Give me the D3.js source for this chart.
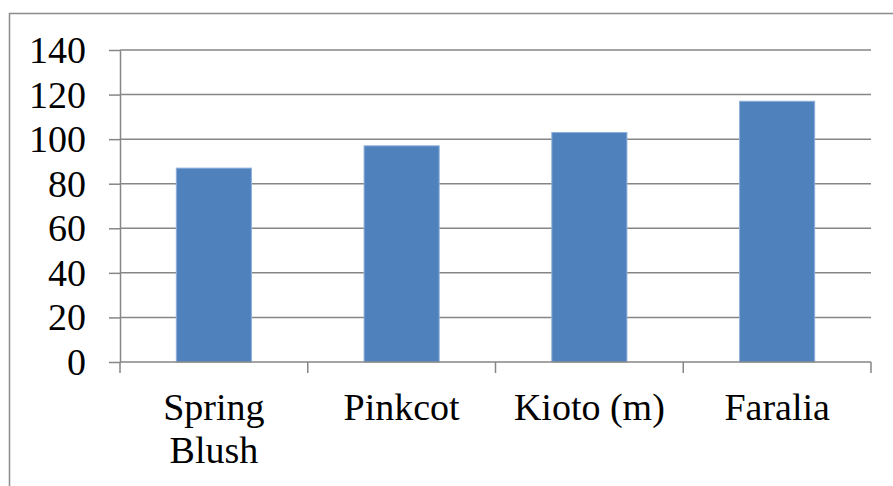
<!DOCTYPE html>
<html>
<head>
<meta charset="utf-8">
<script src="https://cdn.jsdelivr.net/npm/d3@7"></script>
<style>
  body { margin: 0; padding: 0; background: #fff; }
  svg { display: block; }
</style>
</head>
<body>
<svg id="chart" width="893" height="486"></svg>
<script>
// chart data
const categories = [["Spring", "Blush"], ["Pinkcot"], ["Kioto (m)"], ["Faralia"]];
const values = [87, 97, 103, 117];
const yTicks = [0, 20, 40, 60, 80, 100, 120, 140];

const FONT = "Liberation Serif";
const FONT_SIZE = 38;
const width = 893, height = 486;
const margin = { top: 50, right: 22, bottom: 124, left: 120 };
const plotW = width - margin.left - margin.right;
const plotH = height - margin.top - margin.bottom;

const svg = d3.select("#chart");

// outer chart border (runs off the right and bottom of the picture)
svg.append("rect")
  .attr("x", 9.5)
  .attr("y", 13.5)
  .attr("width", 900)
  .attr("height", 500)
  .attr("fill", "none")
  .attr("stroke", "#8c8c8c")
  .attr("stroke-width", 1.5);

const g = svg.append("g")
  .attr("transform", `translate(${margin.left},${margin.top})`);

const keys = categories.map((c) => c.join(" "));

const x = d3.scaleBand()
  .domain(keys)
  .range([0, plotW])
  .paddingInner(0.6)
  .paddingOuter(0.3);

// category bands (for ticks between categories)
const xCat = d3.scaleBand().domain(keys).range([0, plotW]);

const y = d3.scaleLinear()
  .domain([0, 140])
  .range([plotH, 0]);

// gridlines
g.append("g")
  .selectAll("line")
  .data(yTicks.filter((d) => d > 0))
  .join("line")
  .attr("x1", 0)
  .attr("x2", plotW)
  .attr("y1", (d) => y(d))
  .attr("y2", (d) => y(d))
  .attr("stroke", "#868686")
  .attr("stroke-width", 1.5);

// y axis
const yAxis = g.append("g")
  .call(d3.axisLeft(y).tickValues(yTicks).tickSize(11).tickPadding(23).tickSizeOuter(0));
yAxis.attr("font-family", FONT).attr("font-size", FONT_SIZE);
yAxis.select(".domain").attr("stroke", "#868686").attr("stroke-width", 1.5);
yAxis.selectAll(".tick text")
  .attr("font-family", FONT)
  .attr("font-size", FONT_SIZE)
  .attr("fill", "#000")
  .attr("dy", "0.33em");
yAxis.selectAll(".tick line").attr("stroke", "#868686").attr("stroke-width", 1.5);

// bars
g.selectAll(".bar")
  .data(values)
  .join("rect")
  .attr("class", "bar")
  .attr("x", (d, i) => x(keys[i]))
  .attr("y", (d) => y(d))
  .attr("width", x.bandwidth())
  .attr("height", (d) => y(0) - y(d))
  .attr("fill", "#4f81bd")
  .attr("stroke", "#8eb0da")
  .attr("stroke-width", 1);

// x axis baseline with ticks at category boundaries
const boundaries = keys.map((k) => xCat(k)).concat([plotW]);
g.append("line")
  .attr("x1", 0)
  .attr("x2", plotW)
  .attr("y1", plotH)
  .attr("y2", plotH)
  .attr("stroke", "#868686")
  .attr("stroke-width", 1.5);
g.append("g")
  .selectAll("line")
  .data(boundaries)
  .join("line")
  .attr("x1", (d) => d)
  .attr("x2", (d) => d)
  .attr("y1", plotH)
  .attr("y2", plotH + 11)
  .attr("stroke", "#868686")
  .attr("stroke-width", 1.5);

// category labels, one tspan per line
const labels = g.append("g")
  .selectAll("text")
  .data(categories)
  .join("text")
  .attr("text-anchor", "middle")
  .attr("font-family", FONT)
  .attr("font-size", FONT_SIZE)
  .attr("fill", "#000")
  .attr("transform", (d, i) => `translate(${xCat(keys[i]) + xCat.bandwidth() / 2},${plotH + 58})`);

labels.selectAll("tspan")
  .data((d) => d)
  .join("tspan")
  .attr("x", 0)
  .attr("dy", (d, i) => (i === 0 ? 0 : 43))
  .text((d) => d);
</script>
</body>
</html>
